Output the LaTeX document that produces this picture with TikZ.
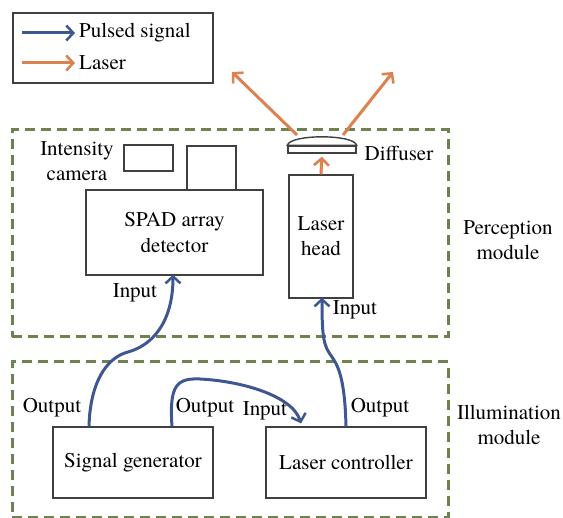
\documentclass[tikz,border=0pt]{standalone}
\usepackage{fontspec}
\setmainfont{texgyretermes}[Extension=.otf, UprightFont=*-regular, BoldFont=*-bold, ItalicFont=*-italic, BoldItalicFont=*-bolditalic]
\usetikzlibrary{arrows.meta}
\definecolor{pblue}{HTML}{3E5790}
\definecolor{porange}{HTML}{DB8250}
\definecolor{pgreen}{HTML}{6E8250}
\definecolor{pgray}{HTML}{404040}
\begin{document}
\begin{tikzpicture}[x=1pt,y=-1pt,
  every node/.style={font=\rmfamily\fontsize{21}{25}\selectfont, inner sep=0pt},
  box/.style={draw=pgray, line width=1.4pt, align=center, fill=white},
  dashbox/.style={draw=pgreen, line width=3pt, dash pattern=on 10pt off 6pt},
  lbl/.style={align=center},
  sig/.style={draw=pblue, line width=3pt, -{Straight Barb[length=7pt,width=15pt,line width=2.5pt]}},
  las/.style={draw=porange, line width=3pt, -{Straight Barb[length=7pt,width=15pt,line width=2.6pt]}},
]
\useasboundingbox (0,0) rectangle (563,518);
% module frames
\node[dashbox, minimum width=436pt, minimum height=207pt] (perc) at (230,233.5) {};
\node[dashbox, minimum width=436pt, minimum height=156pt] (illu) at (230,440) {};
\node[lbl] (perct) at (508,240) {Perception\\module};
\node[lbl] (illut) at (509,425) {Illumination\\module};
% legend
\node[draw=pgray, line width=1.4pt, minimum width=200pt, minimum height=70pt] (legend) at (113,48) {};
\coordinate (lb1) at (22,33);
\coordinate (lb2) at (75,33);
\coordinate (lo1) at (22,63);
\coordinate (lo2) at (75,63);
\draw[sig] (lb1) -- (lb2);
\draw[las] (lo1) -- (lo2);
\node[anchor=west] (lbt) at (79,33) {Pulsed signal};
\node[anchor=west] (lot) at (79,63) {Laser};
% perception parts
\node[box, minimum width=177pt, minimum height=85pt] (spad) at (174.5,232.5) {SPAD array\\[1pt]detector};
\node[box, minimum width=49pt, minimum height=26pt] (cam1) at (148.5,158) {};
\node[box, minimum width=49pt, minimum height=44pt] (cam2) at (211.5,168) {};
\node[lbl] (camt) at (77,161) {Intensity\\camera};
\node[box, minimum width=64pt, minimum height=123pt] (lh) at (321,236.5) {Laser\\head};
\node[box, minimum width=68pt, minimum height=7pt] (diff) at (322,149.5) {};
\draw[pgray, line width=1.4pt, fill=white] (diff.north west) .. controls (290,134) and (354,134) .. (diff.north east) -- cycle;
\node (difft) at (399,153) {Diffuser};
\coordinate (r1s) at (297,135);
\coordinate (r1e) at (232,72);
\coordinate (r2s) at (343,135);
\coordinate (r2e) at (393,72);
\draw[las] (r1s) -- (r1e);
\draw[las] (r2s) -- (r2e);
\draw[las, shorten >=3pt] (lh.north) -- (diff.south);
% illumination parts
\node[box, minimum width=160pt, minimum height=71pt] (sg) at (133,462.5) {Signal generator};
\node[box, minimum width=160pt, minimum height=71pt] (lc) at (346,462.5) {Laser controller};
% connectors
\draw[sig] ([xshift=-44pt]sg.north) .. controls (90,385) and (105,358) .. (128,352)
   .. controls (150,346) and (173,325) .. ([xshift=-1.5pt,yshift=1pt]spad.south);
\draw[sig, shorten >=3pt] ([xshift=39pt]sg.north) .. controls (169,385) and (177,378) .. (200,379)
   .. controls (240,381) and (292,395) .. ([xshift=-44pt]lc.north);
\draw[sig] (lc.north) .. controls (345,385) and (340,368) .. (332,357)
   .. controls (324,346) and (322,340) .. ([xshift=1pt,yshift=1pt]lh.south);
% port labels
\node (o1) at (52,408) {Output};
\node (i1) at (135,293) {Input};
\node (o2) at (205,408) {Output};
\node (i2) at (265,411) {Input};
\node (o3) at (380,408) {Output};
\node (i3) at (355,310) {Input};
\end{tikzpicture}
\end{document}
